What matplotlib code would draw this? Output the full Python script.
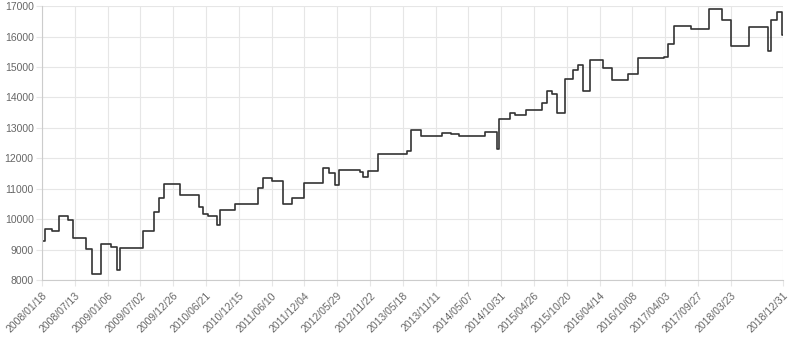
import numpy as np
import matplotlib.pyplot as plt
import matplotlib.dates as mdates
import pandas as pd

plt.rcParams['font.family'] = ['Liberation Sans', 'DejaVu Sans']

# step change points
dates = ['2008-01-18', '2008-02-03', '2008-03-14', '2008-04-20', '2008-06-06',
         '2008-07-03', '2008-09-11', '2008-10-12', '2008-12-01', '2009-01-24',
         '2009-02-24', '2009-03-14', '2009-07-14', '2009-09-14', '2009-10-11',
         '2009-11-08', '2010-02-03', '2010-05-16', '2010-06-04', '2010-07-02',
         '2010-08-22', '2010-09-05', '2010-11-27', '2011-03-27', '2011-04-25',
         '2011-06-14', '2011-08-10', '2011-09-30', '2011-12-02', '2012-03-16',
         '2012-04-17', '2012-05-18', '2012-06-08', '2012-09-30', '2012-10-17',
         '2012-11-13', '2013-01-06', '2013-06-12', '2013-07-02', '2013-08-23',
         '2013-12-17', '2014-02-03', '2014-03-20', '2014-08-07', '2014-10-08',
         '2014-10-20', '2014-12-20', '2015-01-15', '2015-03-15', '2015-06-07',
         '2015-07-08', '2015-07-31', '2015-08-29', '2015-10-08', '2015-11-25',
         '2015-12-19', '2016-01-18', '2016-02-23', '2016-05-03', '2016-06-19',
         '2016-09-14', '2016-11-10', '2017-03-30', '2017-04-21', '2017-05-20',
         '2017-08-20', '2017-11-25', '2018-02-05', '2018-03-26', '2018-07-02',
         '2018-10-11', '2018-10-27', '2018-11-27', '2018-12-26', '2018-12-31']
values = [9270, 9680, 9620, 10100, 9960,
          9380, 9020, 8200, 9190, 9100,
          8330, 9040, 9620, 10230, 10690,
          11140, 10780, 10390, 10180, 10110,
          9800, 10310, 10510, 11020, 11350,
          11240, 10500, 10680, 11200, 11680,
          11510, 11130, 11600, 11550, 11400,
          11580, 12130, 12240, 12920, 12720,
          12830, 12810, 12730, 12850, 12290,
          13280, 13480, 13410, 13600, 13820,
          14210, 14100, 13480, 14610, 14900,
          15070, 14220, 15220, 14980, 14580,
          14760, 15300, 15340, 15770, 16350,
          16240, 16890, 16550, 15700, 16310,
          15520, 16530, 16800, 16050, 16050]

tick_labels = ['2008/01/18', '2008/07/13', '2009/01/06', '2009/07/02', '2009/12/26',
               '2010/06/21', '2010/12/15', '2011/06/10', '2011/12/04', '2012/05/29',
               '2012/11/22', '2013/05/18', '2013/11/11', '2014/05/07', '2014/10/31',
               '2015/04/26', '2015/10/20', '2016/04/14', '2016/10/08', '2017/04/03',
               '2017/09/27', '2018/03/23', '2018/12/31']
y_ticks = [8000, 9000, 10000, 11000, 12000, 13000, 14000, 15000, 16000, 17000]

x = pd.to_datetime(dates)
ticks = pd.to_datetime(tick_labels, format='%Y/%m/%d')

fig = plt.figure(figsize=(8, 3.39), dpi=100)
ax = fig.add_axes([0.0525, 0.174, 0.9265, 0.808])

ax.step(x, values, where='post', color='#333333', linewidth=1.2)

ax.set_xlim(ticks[0], ticks[-1])
ax.set_ylim(8000, 17000)
ax.set_xticks(ticks)
ax.set_xticklabels(tick_labels, rotation=45, ha='right', rotation_mode='anchor')
ax.set_yticks(y_ticks)

ax.grid(True, color='#e6e6e6', linewidth=0.8)
ax.set_axisbelow(True)
for s in ['top', 'right']:
    ax.spines[s].set_visible(False)
for s in ['left', 'bottom']:
    ax.spines[s].set_color('#cccccc')
    ax.spines[s].set_linewidth(0.8)
ax.tick_params(axis='both', colors='#e6e6e6', labelcolor='#666666',
               labelsize=7.5, length=4, width=0.8)
ax.tick_params(axis='y', pad=2)

fig.savefig('out.png', dpi=100)
